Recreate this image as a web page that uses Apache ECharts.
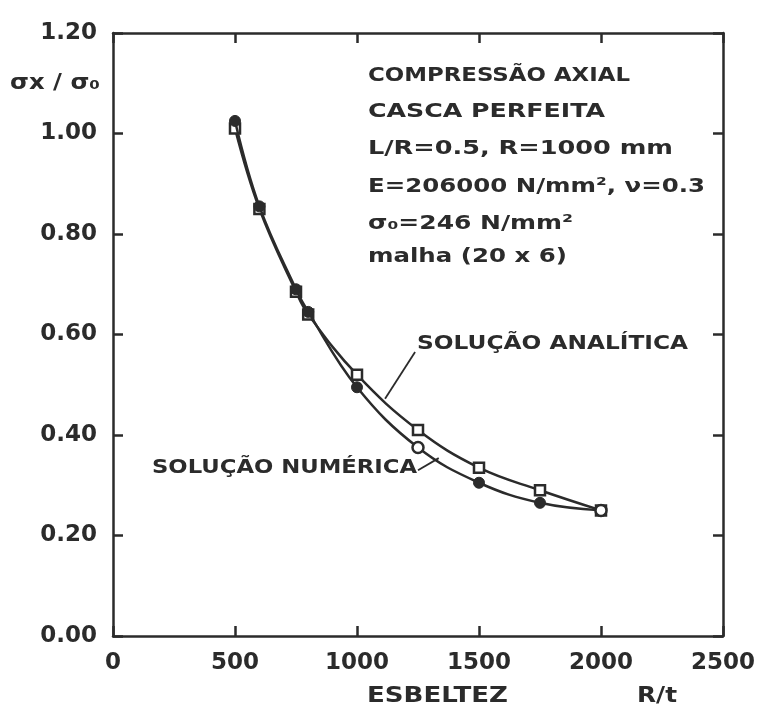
<!DOCTYPE html>
<html>
<head>
<meta charset="utf-8">
<script src="https://cdn.jsdelivr.net/npm/echarts@6/dist/echarts.min.js"></script>
<style>
  html, body { margin: 0; padding: 0; background: #fff; }
  #main { width: 762px; height: 709px; }
</style>
</head>
<body>
<div id="main"></div>
<script>
(function () {

    // R/t (esbeltez) e sigma_x / sigma_0
    const esbeltez = [500, 600, 750, 800, 1000, 1250, 1500, 1750, 2000];
    const analitica = [1.01, 0.85, 0.685, 0.64, 0.52, 0.41, 0.335, 0.29, 0.25];
    const numerica = [1.025, 0.855, 0.69, 0.645, 0.495, 0.375, 0.305, 0.265, 0.25];

    const xMin = 0, xMax = 2500, xStep = 500;
    const yMin = 0, yMax = 1.2, yStep = 0.2;

    const INK = '#2b2b2b';
    const FONT = '"DejaVu Sans", sans-serif';

    // pontos da solução numérica desenhados vazados
    const vazados = [1250, 2000];

    const G = function (id) {
        return document.getElementById(id);
    };

    // mede o texto e devolve o scaleX para ocupar a largura do original
    const ctx = document.createElement('canvas').getContext('2d');
    function fit(text, size, width) {
        ctx.font = 'bold ' + size + 'px ' + FONT;
        return width / ctx.measureText(text).width;
    }

    function label(text, x, y, size, width) {
        return {
            type: 'text',
            x: x, y: y,
            scaleX: fit(text, size, width),
            silent: true,
            style: {
                text: text,
                fontSize: size,
                fontWeight: 'bold',
                fontFamily: FONT,
                fill: INK,
                align: 'left',
                verticalAlign: 'middle'
            }
        };
    }

    const axisLine = { show: true, onZero: false, lineStyle: { color: INK, width: 2.5 } };
    const tick = { show: true, inside: true, length: 10, lineStyle: { color: INK, width: 2.5 } };
    const tickLabel = { color: INK, fontSize: 23, fontWeight: 'bold', fontFamily: FONT };

    const chart = echarts.init(G('main'), null, { renderer: 'canvas' });

    chart.setOption({
        backgroundColor: '#ffffff',
        animation: false,
        grid: { left: 113, right: 39, top: 33, bottom: 73 },
        xAxis: [{
            type: 'value', position: 'bottom',
            min: xMin, max: xMax, interval: xStep,
            axisLine: axisLine, axisTick: tick,
            axisLabel: Object.assign({
                margin: 16,
                formatter: function (v) { return String(v); }
            }, tickLabel),
            splitLine: { show: false }
        }, {
            type: 'value', position: 'top',
            min: xMin, max: xMax, interval: xStep,
            axisLine: axisLine, axisTick: tick,
            axisLabel: { show: false },
            splitLine: { show: false }
        }],
        yAxis: [{
            type: 'value', position: 'left',
            min: yMin, max: yMax, interval: yStep,
            axisLine: axisLine, axisTick: tick,
            axisLabel: Object.assign({
                margin: 16,
                formatter: function (v) { return v.toFixed(2); }
            }, tickLabel),
            splitLine: { show: false }
        }, {
            type: 'value', position: 'right',
            min: yMin, max: yMax, interval: yStep,
            axisLine: axisLine, axisTick: tick,
            axisLabel: { show: false },
            splitLine: { show: false }
        }],
        series: [{
            name: 'SOLUÇÃO ANALÍTICA',
            type: 'line',
            smooth: 0.4,
            data: esbeltez.map(function (x, i) { return [x, analitica[i]]; }),
            symbol: 'rect',
            symbolSize: 10,
            itemStyle: { color: '#ffffff', borderColor: INK, borderWidth: 2.5 },
            lineStyle: { color: INK, width: 2.5 },
            markLine: {
                silent: true,
                symbol: 'none',
                label: { show: false },
                lineStyle: { color: INK, width: 1.8, type: 'solid' },
                data: [[{ coord: [1238, 0.565] }, { coord: [1115, 0.472] }]]
            },
            z: 2
        }, {
            name: 'SOLUÇÃO NUMÉRICA',
            type: 'line',
            smooth: 0.4,
            data: esbeltez.map(function (x, i) {
                const p = { value: [x, numerica[i]] };
                if (vazados.indexOf(x) >= 0) {
                    p.itemStyle = { color: '#ffffff', borderColor: INK, borderWidth: 2.5 };
                }
                return p;
            }),
            symbol: 'circle',
            symbolSize: 11,
            itemStyle: { color: INK, borderColor: INK, borderWidth: 1 },
            lineStyle: { color: INK, width: 2.5 },
            markLine: {
                silent: true,
                symbol: 'none',
                label: { show: false },
                lineStyle: { color: INK, width: 1.8, type: 'solid' },
                data: [[{ coord: [1250, 0.33] }, { coord: [1335, 0.354] }]]
            },
            z: 3
        }],
        graphic: [
            label('σx / σ₀', 10, 84, 21, 90),
            label('COMPRESSÃO AXIAL', 368, 76, 20, 262),
            label('CASCA PERFEITA', 368, 112, 20, 237),
            label('L/R=0.5, R=1000 mm', 368, 149, 20, 305),
            label('E=206000 N/mm², ν=0.3', 368, 187, 20, 337),
            label('σ₀=246 N/mm²', 368, 224, 20, 205),
            label('malha (20 x 6)', 368, 257, 20, 199),
            label('SOLUÇÃO ANALÍTICA', 417, 344, 20, 271),
            label('SOLUÇÃO NUMÉRICA', 152, 468, 20, 265),
            label('ESBELTEZ', 367, 697, 21, 141),
            label('R/t', 637, 697, 21, 40)
        ]
    });

})();
</script>
</body>
</html>
